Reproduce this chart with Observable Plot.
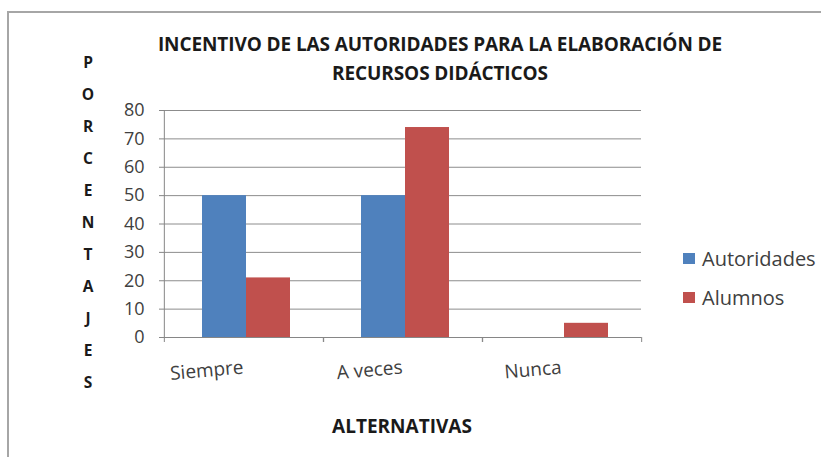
<!DOCTYPE html>
<html>
<head>
<meta charset="utf-8">
<script src="https://cdn.jsdelivr.net/npm/d3@7"></script>
<script src="https://cdn.jsdelivr.net/npm/@observablehq/plot@0.6"></script>
<style>
  body { margin: 0; background: #fff; }
  #wrap { position: relative; width: 821px; height: 457px; overflow: hidden; background: #fff; font-family: "Open Sans", sans-serif; }
  #border { position: absolute; left: 7px; top: 11px; width: 840px; height: 470px; border-left: 2px solid #a6a6a6; border-top: 2px solid #a6a6a6; }
  #chart { position: absolute; left: 0; top: 0; }
  #title { position: absolute; left: 120px; top: 30px; width: 640px; text-align: center; font-weight: 700; font-size: 19px; line-height: 29px; color: #1a1a1a; letter-spacing: -0.1px; }
  #ytitle { position: absolute; left: 73px; top: 46px; width: 30px; text-align: center; font-weight: 700; font-size: 15.5px; line-height: 32px; color: #1a1a1a; }
  #xtitle { position: absolute; left: 302px; top: 411px; width: 200px; text-align: center; font-weight: 700; font-size: 19px; line-height: 30px; color: #1a1a1a; }
  #legend { position: absolute; left: 683px; top: 243px; font-size: 20px; color: #404040; }
  .item { display: flex; align-items: center; height: 30px; margin-bottom: 9px; }
  .sw { width: 12px; height: 11px; margin-right: 7px; }
</style>
</head>
<body>
<div id="wrap">
  <div id="border"></div>
  <div id="chart"></div>
  <div id="title"></div>
  <div id="ytitle"></div>
  <div id="xtitle"></div>
  <div id="legend"></div>
</div>
<script>
const titleLines = ["INCENTIVO DE LAS AUTORIDADES PARA LA ELABORACIÓN DE", "RECURSOS DIDÁCTICOS"];
const yTitle = "PORCENTAJES";
const xTitle = "ALTERNATIVAS";
const categories = ["Siempre", "A veces", "Nunca"];
const series = ["Autoridades", "Alumnos"];
const autoridades = [50, 50, 0];
const alumnos = [21, 74, 5];
const colors = ["#4F81BD", "#C0504D"];
const yTicks = [0, 10, 20, 30, 40, 50, 60, 70, 80];

const rows = [];
categories.forEach((c, i) => {
  rows.push({category: c, series: series[0], value: autoridades[i]});
  rows.push({category: c, series: series[1], value: alumnos[i]});
});

const W = 821, H = 457, mL = 163, mR = 180, mT = 110, mB = 120;
const step = (W - mL - mR) / categories.length;
const axisGray = "#868686";

const chart = Plot.plot({
  width: W, height: H,
  marginLeft: mL, marginRight: mR, marginTop: mT, marginBottom: mB,
  style: {fontFamily: '"Open Sans", sans-serif', background: "transparent", overflow: "visible"},
  fx: {domain: categories, padding: 0, label: null},
  x: {domain: series, paddingInner: 0, paddingOuter: 0.79, align: 0.53, axis: null},
  y: {domain: [0, 80], label: null},
  color: {domain: series, range: colors},
  marks: [
    Plot.gridY(yTicks, {stroke: "#8c8c8c", strokeOpacity: 1}),
    Plot.barY(rows, {fx: "category", x: "series", y: "value", fill: "series"}),
    Plot.ruleY([0], {stroke: axisGray}),
    Plot.ruleX([categories[0]], {fx: d => d, x: null, dx: -step / 2, stroke: axisGray}),
    Plot.axisY(yTicks, {tickSize: 5, tickPadding: 15, fontSize: 18, fill: "#404040", stroke: axisGray, label: null}),
    Plot.axisFx({anchor: "bottom", tickSize: 5, tickFormat: () => "", dx: -step / 2, stroke: axisGray, label: null}),
    Plot.axisFx([categories[categories.length - 1]], {anchor: "bottom", tickSize: 5, tickFormat: () => "", dx: step / 2, stroke: axisGray, label: null}),
    Plot.text(categories, {fx: d => d, text: d => d, frameAnchor: "bottom", dy: 36, rotate: -5, textAnchor: "end", fontSize: 19, fill: "#404040"})
  ]
});
document.getElementById("chart").appendChild(chart);

document.getElementById("title").innerHTML = titleLines.map(t => `<div>${t}</div>`).join("");
document.getElementById("ytitle").innerHTML = yTitle.split("").map(ch => `<div>${ch}</div>`).join("");
document.getElementById("xtitle").textContent = xTitle;
document.getElementById("legend").innerHTML = series.map((s, i) =>
  `<div class="item"><div class="sw" style="background:${colors[i]}"></div><span>${s}</span></div>`).join("");
</script>
</body>
</html>
